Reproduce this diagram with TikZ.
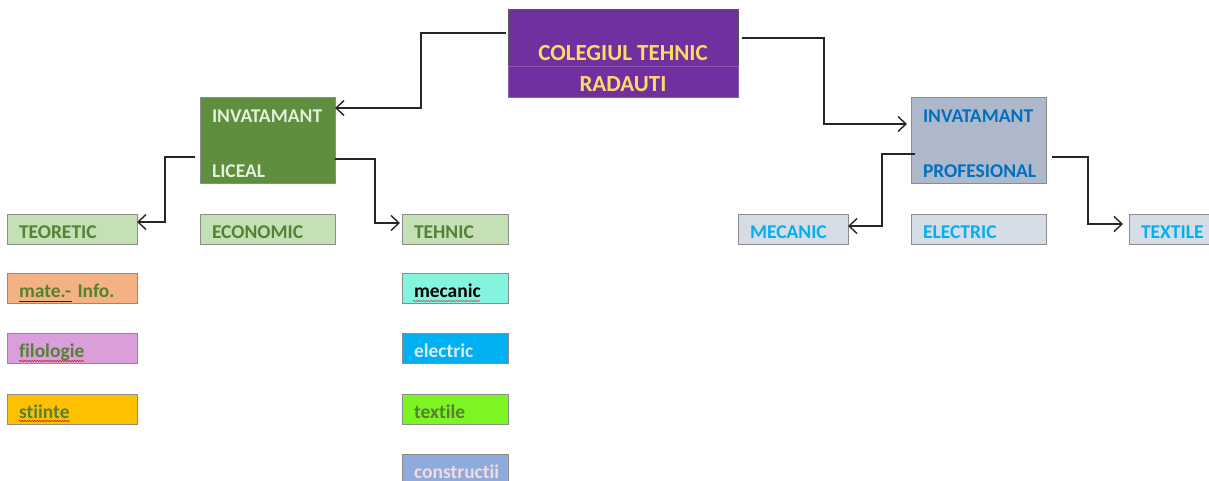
\documentclass[tikz,border=0pt]{standalone}
\usepackage{fontspec}
\setmainfont[Ligatures={NoCommon,NoRequired,NoContextual}]{Carlito}
\usetikzlibrary{arrows.meta,calc,decorations.pathmorphing}
\definecolor{cpurple}{HTML}{7030A0}
\definecolor{cgold}{HTML}{FFD966}
\definecolor{cgreen}{HTML}{5E8E3E}
\definecolor{cgreentxt}{HTML}{548235}
\definecolor{clightgreen}{HTML}{C5E0B4}
\definecolor{cpaletxt}{HTML}{E2EFDA}
\definecolor{cprof}{HTML}{ADB9CA}
\definecolor{cproftxt}{HTML}{0070C0}
\definecolor{cgrayblue}{HTML}{D6DCE5}
\definecolor{ccyan}{HTML}{00B0F0}
\definecolor{corange}{HTML}{F4B183}
\definecolor{cpink}{HTML}{DA9EDB}
\definecolor{cyellow}{HTML}{FFC000}
\definecolor{caqua}{HTML}{84F4DE}
\definecolor{clime}{HTML}{7CF522}
\definecolor{cblue}{HTML}{8FAADC}
\definecolor{celtxt}{HTML}{DEEBF7}
\definecolor{cconstxt}{HTML}{F2DCDB}
\definecolor{cborder}{HTML}{8C8C8C}
\definecolor{cline}{HTML}{262626}
\begin{document}
\begin{tikzpicture}[x=1pt,y=-1pt,
  base/.style={draw=cborder, line width=0.8pt, outer sep=0pt, inner ysep=0pt,
    anchor=north west, font=\fontsize{19.5}{23}\selectfont\bfseries},
  sbox/.style={base, inner xsep=12pt, align=left, text height=18pt, text depth=0pt,
    minimum height=30pt},
  tbox/.style={base, inner xsep=12pt, align=left, text height=0pt, text depth=34pt,
    minimum height=86pt, text width=111pt, minimum width=135pt},
  w130/.style={text width=106pt, minimum width=130pt},
  w135/.style={text width=111pt, minimum width=135pt},
  w106/.style={text width=82pt, minimum width=106pt},
  w110/.style={text width=86pt, minimum width=110pt},
  conn/.style={draw=cline, line width=1.4pt, -{Straight Barb[length=8pt,width=15pt]}},
  squig/.style={decorate, decoration={snake, amplitude=0.6pt, segment length=2.5pt},
    draw=red!80!black, line width=0.5pt},
  ]
\useasboundingbox (0,0) rectangle (1209,481);
\clip (0,0) rectangle (1209,481);
\fill[white] (0,0) rectangle (1209,481);

% top box
\node[base, fill=cpurple, draw=black!65, text=cgold, minimum width=230pt, minimum height=57pt,
  text height=47pt, text depth=0pt, font=\fontsize{23}{27}\selectfont\bfseries]
  (top) at (508,9) {COLEGIUL TEHNIC};
\node[base, fill=cpurple, draw=cpurple!80!white, text=cgold, minimum width=230pt, minimum height=31pt,
  text height=21pt, text depth=0pt, font=\fontsize{23}{27}\selectfont\bfseries]
  (top2) at (508,66) {RADAUTI};

% second level
\node[tbox, fill=cgreen, text=cpaletxt] (lic) at (200,97) {INVATAMANT\\[32pt]LICEAL};
\node[tbox, fill=cprof, text=cproftxt] (prof) at (911,97) {INVATAMANT\\[32pt]PROFESIONAL};

% third level
\node[sbox, w130, fill=clightgreen, text=cgreentxt] (teo) at (7,214) {TEORETIC};
\node[sbox, w135, fill=clightgreen, text=cgreentxt] (eco) at (200,214) {ECONOMIC};
\node[sbox, w106, fill=clightgreen, text=cgreentxt] (teh) at (402,214) {TEHNIC};
\node[sbox, w110, fill=cgrayblue, text=ccyan] (mec) at (738,214) {MECANIC};
\node[sbox, w135, fill=cgrayblue, text=ccyan] (ele) at (911,214) {ELECTRIC};
\node[sbox, w110, fill=cgrayblue, text=ccyan] (tex) at (1129,214) {TEXTILE};

% fourth level
\node[sbox, w130, fill=corange, text=cgreentxt] (mate) at (7,273) {mate.-~Info.};
\node[sbox, w130, fill=cpink, text=cgreentxt] (filo) at (7,333) {filologie};
\node[sbox, w130, fill=cyellow, text=cgreentxt] (sti) at (7,394) {stiinte};
\node[sbox, w106, fill=caqua, text=black] (tmec) at (402,273) {mecanic};
\node[sbox, w106, fill=ccyan, text=celtxt] (tele) at (402,333) {electric};
\node[sbox, w106, fill=clime, text=cgreentxt] (ttex) at (402,394) {textile};
\node[sbox, w106, fill=cblue, text=cconstxt] (tcon) at (402,454) {constructii};

% spelling marks
\draw[draw=blue!45!red!70!black, line width=0.8pt] ($(mate.north west)+(12,28)$) -- ($(mate.north west)+(65,28)$);
\draw[squig] ($(filo.north west)+(12,28)$) -- ($(filo.north west)+(77,28)$);
\draw[squig] ($(sti.north west)+(12,27)$) -- ($(sti.north west)+(63,27)$);
\draw[squig, draw=red!40!gray] ($(tmec.north west)+(11,28)$) -- ($(tmec.north west)+(78,28)$);

% connectors
\draw[conn] ($(top.north west)+(-2,24)$) -- ++(-85,0) |- ($(lic.north east)+(0,11)$);
\draw[conn] ($(top.north east)+(4,29)$) -- ++(82,0) |- ($(prof.north west)+(-4,27)$);
\draw[conn] ($(lic.north west)+(-5,60)$) -- ++(-30,0) |- ($(teo.north east)+(0,8)$);
\draw[conn] ($(lic.north east)+(0,62)$) -- ++(40,0) |- ($(teh.north west)+(-2,9)$);
\draw[conn] ($(prof.north west)+(4,57)$) -- ++(-33,0) |- ($(mec.north east)+(0,12)$);
\draw[conn] ($(prof.north east)+(6,60)$) -- ++(36,0) |- ($(tex.north west)+(-6,10)$);
\end{tikzpicture}
\end{document}
